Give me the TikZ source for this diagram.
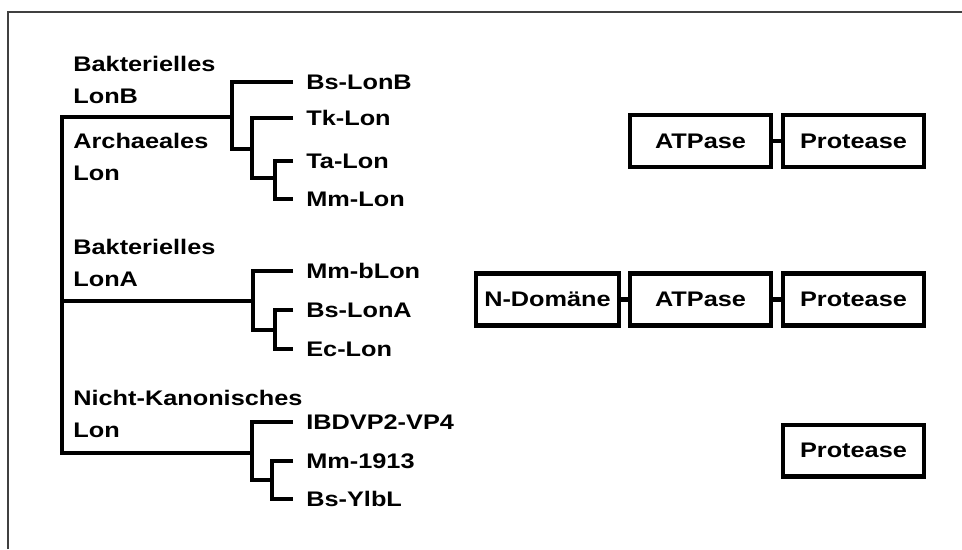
\documentclass[tikz,border=0pt]{standalone}
\usepackage{fontspec}
\setmainfont{Liberation Sans}
\usepackage{graphicx}
\newcommand{\xwide}[1]{\scalebox{1.2}[1]{#1}}
\tikzset{
  branch/.style={line width=2.3pt},
  leaf/.style={anchor=west, inner xsep=7.4pt, inner ysep=1pt, font=\fontsize{12}{14}\selectfont\bfseries},
  group/.style={anchor=west, inner sep=0pt, align=left, font=\fontsize{12}{18.4}\selectfont\bfseries},
  dombox/.style={draw, line width=2.3pt, minimum width=2.82cm, minimum height=1.04cm, inner sep=0pt, font=\fontsize{12}{14}\selectfont\bfseries}
}
\begin{document}
\begin{tikzpicture}[x=0.02cm, y=-0.02cm]
    \useasboundingbox (0,0) rectangle (962,549);
    % Draw frame
    \draw[black!75, line width=0.6pt] (8,549) -- (8,12) -- (962,12);

    % Draw group labels
    \node[group] (gLonB) at (73,80) {\xwide{Bakterielles}\\\xwide{LonB}};
    \node[group] (gArch) at (73,157) {\xwide{Archaeales}\\\xwide{Lon}};
    \node[group] (gLonA) at (73,263) {\xwide{Bakterielles}\\\xwide{LonA}};
    \node[group] (gNK) at (73,414) {\xwide{Nicht-Kanonisches}\\\xwide{Lon}};

    % Draw leaves
    \node[leaf] (BsLonB) at (293,82) {\xwide{Bs-LonB}};
    \node[leaf] (TkLon) at (293,118) {\xwide{Tk-Lon}};
    \node[leaf] (TaLon) at (293,161) {\xwide{Ta-Lon}};
    \node[leaf] (MmLon) at (293,199) {\xwide{Mm-Lon}};
    \node[leaf] (MmbLon) at (293,271) {\xwide{Mm-bLon}};
    \node[leaf] (BsLonA) at (293,310) {\xwide{Bs-LonA}};
    \node[leaf] (EcLon) at (293,349) {\xwide{Ec-Lon}};
    \node[leaf] (IBDV) at (293,422) {\xwide{IBDVP2-VP4}};
    \node[leaf] (Mm1913) at (293,461) {\xwide{Mm-1913}};
    \node[leaf] (BsYlbL) at (293,499) {\xwide{Bs-YlbL}};

    % Branch points
    \coordinate (r1) at (62,117);
    \coordinate (r2) at (62,301);
    \coordinate (k1) at (232,117);
    \coordinate (k2) at (252,149);
    \coordinate (k3) at (275,178);
    \coordinate (k4) at (253,301);
    \coordinate (k5) at (275,330);
    \coordinate (k6) at (252,453);
    \coordinate (k7) at (272,480);

    % Draw tree
    \draw[branch] (k1) -- (r1) |- (k6);
    \draw[branch] (r2) -- (k4);
    \draw[branch] (BsLonB.west) -| (k1) |- (k2);
    \draw[branch] (TkLon.west) -| (k2) |- (k3);
    \draw[branch] (TaLon.west) -| (k3) |- (MmLon.west);
    \draw[branch] (MmbLon.west) -| (k4) |- (k5);
    \draw[branch] (BsLonA.west) -| (k5) |- (EcLon.west);
    \draw[branch] (IBDV.west) -| (k6) |- (k7);
    \draw[branch] (Mm1913.west) -| (k7) |- (BsYlbL.west);

    % Draw domains
    \node[dombox] (atp1) at (700.5,141) {\xwide{ATPase}};
    \node[dombox] (pro1) at (853.5,141) {\xwide{Protease}};
    \node[dombox, minimum width=2.86cm] (ndom2) at (547.5,299.5) {\xwide{N-Domäne}};
    \node[dombox] (atp2) at (700.5,299.5) {\xwide{ATPase}};
    \node[dombox] (pro2) at (853.5,299.5) {\xwide{Protease}};
    \node[dombox] (pro3) at (853.5,450.5) {\xwide{Protease}};

    % Draw links
    \draw[branch] (atp1) -- (pro1);
    \draw[branch] (ndom2) -- (atp2);
    \draw[branch] (atp2) -- (pro2);
\end{tikzpicture}
\end{document}
